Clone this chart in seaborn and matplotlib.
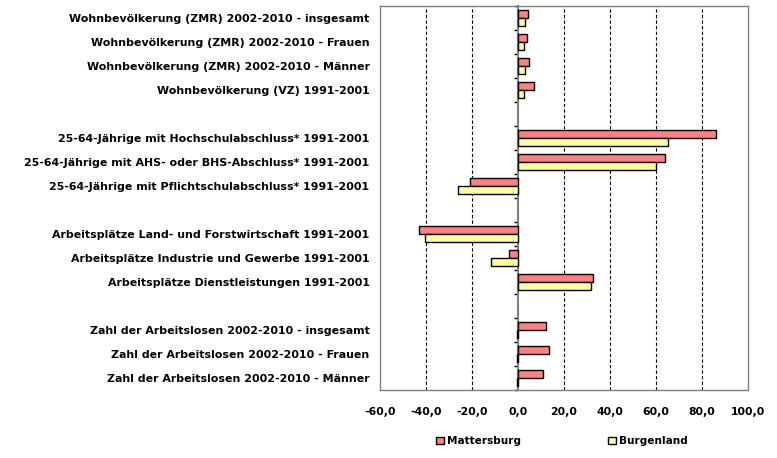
import numpy as np
import pandas as pd
import seaborn as sns
import matplotlib.pyplot as plt
from matplotlib.ticker import FuncFormatter

kategorien = [
    "Wohnbevölkerung (ZMR) 2002-2010 - insgesamt",
    "Wohnbevölkerung (ZMR) 2002-2010 - Frauen",
    "Wohnbevölkerung (ZMR) 2002-2010 - Männer",
    "Wohnbevölkerung (VZ) 1991-2001",
    "25-64-Jährige mit Hochschulabschluss* 1991-2001",
    "25-64-Jährige mit AHS- oder BHS-Abschluss* 1991-2001",
    "25-64-Jährige mit Pflichtschulabschluss* 1991-2001",
    "Arbeitsplätze Land- und Forstwirtschaft 1991-2001",
    "Arbeitsplätze Industrie und Gewerbe 1991-2001",
    "Arbeitsplätze Dienstleistungen 1991-2001",
    "Zahl der Arbeitslosen 2002-2010 - insgesamt",
    "Zahl der Arbeitslosen 2002-2010 - Frauen",
    "Zahl der Arbeitslosen 2002-2010 - Männer",
]
mattersburg = [4.5, 3.9, 4.8, 7.0, 86.1, 63.9, -20.7, -42.9, -3.7, 32.6, 12.2, 13.6, 10.9]
burgenland = [3.0, 2.6, 3.0, 2.6, 65.2, 60.0, -25.9, -40.3, -11.6, 31.7, -0.5, -0.3, -0.5]
regionen = ["Mattersburg", "Burgenland"]
farben = ["#FF8080", "#FFFF99"]

# Leerzeilen zwischen den Gruppen
order = kategorien[0:4] + [" "] + kategorien[4:7] + ["  "] + kategorien[7:10] + ["   "] + kategorien[10:13]

df = pd.DataFrame({
    "Kategorie": kategorien * 2,
    "Wert": mattersburg + burgenland,
    "Region": ["Mattersburg"] * len(kategorien) + ["Burgenland"] * len(kategorien),
})

plt.rcParams["font.family"] = ["DejaVu Sans"]

fig = plt.figure(figsize=(7.77, 4.58), dpi=100)
ax = fig.add_axes([380 / 777, 1 - 390 / 458, 368 / 777, 384 / 458])

sns.barplot(
    data=df, y="Kategorie", x="Wert", hue="Region",
    order=order, hue_order=regionen, palette=farben, saturation=1,
    orient="h", width=0.66, edgecolor="black", linewidth=1,
    ax=ax,
)

handles, labels = ax.get_legend_handles_labels()
ax.get_legend().remove()

ax.set_xlim(-60, 100)
ax.set_ylim(15.5, -0.5)
ax.set_xticks(np.arange(-60, 101, 20))
ax.xaxis.set_major_formatter(FuncFormatter(lambda v, p: f"{v:.1f}".replace(".", ",")))
ax.set_xlabel("")
ax.set_ylabel("")
ax.tick_params(axis="x", length=0, labelsize=7.8, pad=12)
ax.tick_params(axis="y", length=0, labelsize=7.9, pad=7.5)
for t in ax.get_xticklabels() + ax.get_yticklabels():
    t.set_fontweight("bold")

for v in [-40, -20, 20, 40, 60, 80]:
    ax.axvline(v, color="black", lw=0.8, ls=(0, (3, 2)), zorder=0)

for s in ax.spines.values():
    s.set_color("#808080")
    s.set_linewidth(1)

# Achse bei 0 mit Teilstrichen zwischen den Zeilen
sec = ax.secondary_yaxis(60 / 160)
sec.set_yticks(np.arange(-0.5, 16, 1))
sec.set_yticklabels([])
sec.tick_params(length=3, width=1, color="black", direction="out")
sec.spines["left"].set_color("#808080")
sec.spines["left"].set_linewidth(1.5)

fig.legend(
    handles, labels, loc="center", bbox_to_anchor=(562 / 777, 1 - 441 / 458),
    ncol=2, frameon=False, columnspacing=8.3, handlelength=0.7, handleheight=0.7,
    handletextpad=0.3, prop={"size": 7.6, "weight": "bold"},
)

fig.savefig("out.png", dpi=100)
